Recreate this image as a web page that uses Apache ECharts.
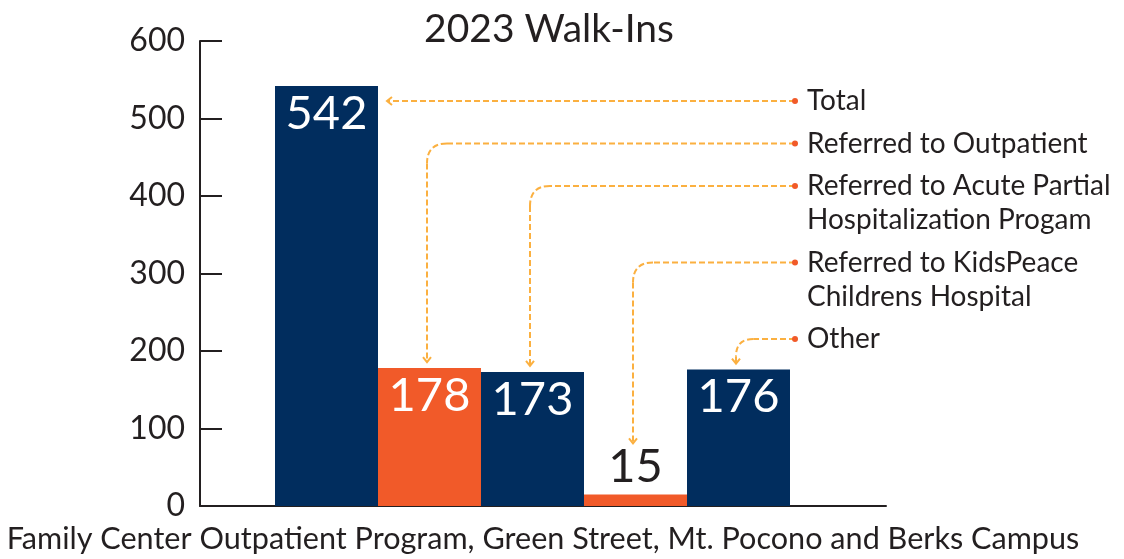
<!DOCTYPE html>
<html>
<head>
<meta charset="utf-8">
<script src="https://cdn.jsdelivr.net/npm/echarts@6/dist/echarts.min.js"></script>
<style>
  html, body { margin: 0; padding: 0; background: #fff; }
  #chart { width: 1124px; height: 559px; }
</style>
</head>
<body>
<div id="chart"></div>
<script>
// data
const category = ['Family Center Outpatient Program, Green Street, Mt. Pocono and Berks Campus'];
const seriesNames = [
  'Total',
  'Referred to Outpatient',
  'Referred to Acute Partial\nHospitalization Progam',
  'Referred to KidsPeace\nChildrens Hospital',
  'Other'
];
const seriesValues = [542, 178, 173, 15, 176];
const seriesColors = ['#012d5e', '#f15a29', '#012d5e', '#f15a29', '#012d5e'];
const yTicks = [0, 100, 200, 300, 400, 500, 600];

const INK = '#231f20';
const FONT = 'Lato, "Noto Sans", sans-serif';
const BAR_W = 103;

const chart = echarts.init(document.getElementById('chart'));

const series = seriesValues.map((v, i) => {
  const small = v < 60; // value too small to hold its label
  return {
    name: seriesNames[i],
    type: 'bar',
    barWidth: BAR_W,
    barGap: '0%',
    data: [v],
    itemStyle: { color: seriesColors[i] },
    label: {
      show: true,
      position: small ? 'top' : 'insideTop',
      distance: 4,
      color: small ? INK : '#fff',
      fontFamily: FONT,
      fontSize: 47
    },
    emphasis: { disabled: true },
    silent: true,
    animation: false
  };
});
// empty spacer so the bar group sits left of the axis centre
series.push({ type: 'bar', barWidth: 21, barGap: '0%', data: ['-'], silent: true, animation: false });

chart.setOption({
  animation: false,
  title: {
    text: '2023 Walk-Ins',
    left: 544,
    textAlign: 'center',
    top: 5,
    textStyle: { color: INK, fontFamily: FONT, fontSize: 39, fontWeight: 'normal' }
  },
  grid: { left: 200, right: 238, top: 41, bottom: 53 },
  xAxis: {
    type: 'category',
    data: category,
    axisLine: { lineStyle: { color: INK, width: 2 } },
    axisTick: { show: false },
    axisLabel: { color: INK, fontFamily: FONT, fontSize: 30.6, margin: 18 }
  },
  yAxis: {
    type: 'value',
    min: yTicks[0],
    max: yTicks[yTicks.length - 1],
    interval: 100,
    axisLine: { show: true, lineStyle: { color: INK, width: 2 } },
    axisTick: { show: true, inside: true, length: 22, lineStyle: { color: INK, width: 2 } },
    axisLabel: { color: INK, fontFamily: FONT, fontSize: 32, margin: 15 },
    splitLine: { show: false }
  },
  series: series
});

// leader lines from the side labels to each bar
const DASH = '#fbb040';
const DOT = '#f15a29';
const dotX = 795, textX = 807, lineH = 34, gapH = 8.5;
let rowY = 101;
const graphic = [];
const lineStyle = { stroke: DASH, lineWidth: 2, lineDash: [6, 3], fill: null };
const headStyle = { stroke: DASH, lineWidth: 2, fill: null };
seriesNames.forEach((name, i) => {
  const lay = chart.getModel().getSeriesByIndex(i).getData().getItemLayout(0);
  const barTop = lay.y + Math.min(lay.height, 0);
  const barRight = lay.x + lay.width;
  const cx = lay.x + lay.width / 2 - 2.5;
  const y = rowY;
  if (i === 0) {
    const tipX = barRight + 9;
    graphic.push({ type: 'line', shape: { x1: dotX, y1: y, x2: tipX, y2: y }, style: lineStyle });
    graphic.push({ type: 'polyline', shape: { points: [[tipX + 5, y - 4], [tipX, y], [tipX + 5, y + 4]] }, style: headStyle });
  } else {
    const tipY = seriesValues[i] < 60 ? barTop - 51 : barTop - 6;
    const r = Math.min(20, (tipY - y) * 0.7);
    graphic.push({ type: 'line', shape: { x1: dotX, y1: y, x2: cx + r, y2: y }, style: lineStyle });
    graphic.push({ type: 'bezierCurve', shape: { x1: cx + r, y1: y, cpx1: cx, cpy1: y, x2: cx, y2: y + r }, style: lineStyle });
    graphic.push({ type: 'line', shape: { x1: cx, y1: y + r, x2: cx, y2: tipY }, style: lineStyle });
    graphic.push({ type: 'polyline', shape: { points: [[cx - 4, tipY - 5], [cx, tipY], [cx + 4, tipY - 5]] }, style: headStyle });
  }
  graphic.push({ type: 'circle', shape: { cx: dotX, cy: y, r: 3 }, style: { fill: DOT } });
  graphic.push({
    type: 'text',
    style: { text: name, x: textX, y: y - lineH / 2, font: `28px ${FONT}`, lineHeight: lineH,
      fill: INK, verticalAlign: 'top', align: 'left' }
  });
  rowY += name.split('\n').length * lineH + gapH;
});
chart.setOption({ graphic: graphic });
</script>
</body>
</html>
